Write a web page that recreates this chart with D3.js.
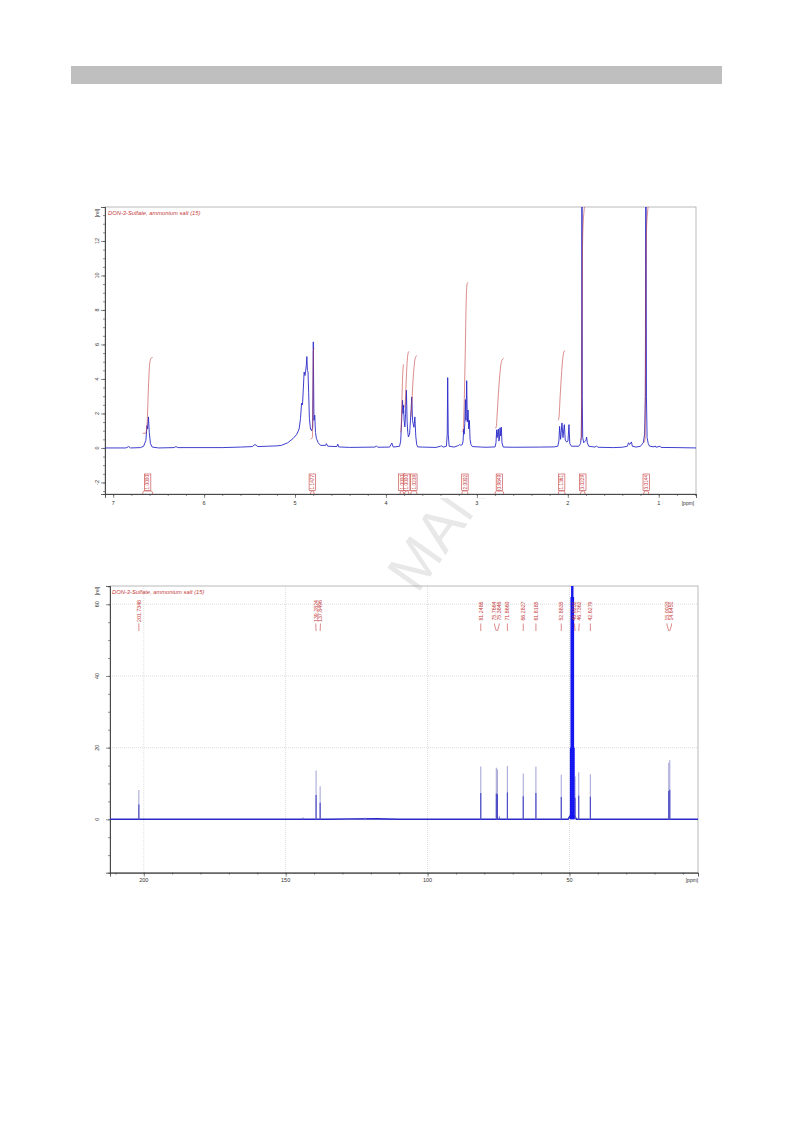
<!DOCTYPE html>
<html><head><meta charset="utf-8">
<script src="https://cdn.jsdelivr.net/npm/d3@7"></script>
<style>body{margin:0;background:#fff} svg{display:block} text{font-family:"Liberation Sans",Arial,sans-serif}</style>
</head><body><svg id="c" width="793" height="1123"></svg>
<script>
// ---------------- DATA ----------------
const hTitle = "DON-3-Sulfate, ammonium salt (15)";
const hXTicks = [7,6,5,4,3,2,1];
const hYTicks = [-2,0,2,4,6,8,10,12];
// 1H spectrum, [ppm, intensity]
const hSpectrum = [
[7.09,0],[6.86,0],[6.83,0.08],[6.81,0],[6.70,0.02],[6.665,0.1],[6.64,0.45],[6.628,1.3],[6.622,1.1],[6.612,1.8],[6.603,0.9],[6.59,0.25],[6.57,0.05],[6.50,0],
[6.33,0.02],[6.31,0.08],[6.29,0.02],[5.80,0.02],[5.60,0.05],[5.47,0.08],[5.44,0.2],[5.41,0.08],[5.30,0.1],[5.20,0.12],[5.15,0.15],[5.08,0.3],[5.02,0.55],[4.98,0.8],[4.955,1.1],
[4.94,1.7],[4.928,2.6],[4.918,2.5],[4.91,3.3],[4.9,4.4],[4.89,4.2],[4.883,4.5],[4.876,4.8],[4.87,5.3],[4.864,4.5],[4.857,4.4],[4.85,3.2],[4.842,1.7],[4.83,1.1],[4.818,1.0],
[4.806,1.2],[4.799,6.15],[4.792,1.6],[4.783,1.9],[4.775,0.9],[4.765,0.55],[4.745,0.3],[4.72,0.15],[4.665,0.15],[4.655,0.25],[4.64,0.1],[4.54,0.08],[4.53,0.22],[4.52,0.06],
[4.40,0.03],[4.12,0.05],[4.105,0.12],[4.09,0.04],[3.96,0.05],[3.935,0.28],[3.92,0.05],
[3.85,0.1],[3.838,0.4],[3.828,1.5],[3.818,2.77],[3.812,2.0],[3.807,2.48],[3.8,1.6],[3.792,1.22],[3.784,2.0],[3.775,3.35],[3.767,1.5],[3.76,0.9],[3.753,0.64],[3.74,0.8],
[3.728,1.8],[3.716,2.96],[3.708,1.6],[3.701,1.41],[3.692,1.2],[3.682,1.8],[3.672,0.7],[3.662,0.2],[3.65,0.06],
[3.60,0.05],[3.45,0.03],[3.40,0.1],[3.39,0.12],[3.37,0.05],[3.335,0.1],[3.326,0.8],[3.321,4.08],[3.315,0.8],[3.305,0.1],[3.25,0.05],[3.2,0.15],[3.19,0.2],[3.175,0.15],
[3.16,0.2],[3.152,0.4],[3.145,1.1],[3.14,0.8],[3.133,1.4],[3.126,2.8],[3.12,1.6],[3.112,3.9],[3.105,1.5],[3.097,2.2],[3.09,1.1],[3.082,1.6],[3.075,0.5],[3.065,0.2],[3.05,0.08],
[2.95,0.05],[2.9,0.04],[2.80,0.06],[2.79,0.3],[2.782,1.05],[2.777,0.6],[2.772,0.8],[2.764,1.1],[2.758,0.4],[2.752,0.5],[2.745,1.17],[2.739,0.7],[2.731,1.2],[2.724,0.3],[2.71,0.05],
[2.6,0.04],[2.3,0.05],[2.15,0.06],[2.11,0.1],[2.098,0.4],[2.09,1.25],[2.079,0.5],[2.064,1.45],[2.053,0.6],[2.038,1.35],[2.028,0.45],[2.013,0.35],[1.998,0.4],[1.987,1.35],[1.978,0.25],[1.96,0.1],
[1.88,0.1],[1.86,0.25],[1.852,0.6],[1.847,3],[1.844,20],[1.841,3],[1.836,0.6],[1.825,0.3],[1.8,0.45],[1.793,0.63],[1.785,0.3],[1.77,0.1],[1.70,0.05],[1.685,0.12],[1.67,0.04],
[1.5,0.02],[1.4,0.04],[1.345,0.1],[1.332,0.3],[1.32,0.2],[1.30,0.35],[1.29,0.1],[1.25,0.05],[1.2,0.1],[1.17,0.3],[1.155,0.8],[1.147,3],[1.141,20],[1.135,3],[1.128,0.6],[1.115,0.25],
[1.1,0.1],[1.05,0.06],[1.04,0.12],[1.03,0.04],[0.985,0.1],[0.975,0.03],[0.80,0.02],[0.59,0]
];
// integral labels and ranges [label, ppmFrom, ppmTo]
const hIntLabels = [
["1.0000",6.676,6.566],["1.1477",4.83,4.79],["1.0000",3.845,3.805],["1.0000",3.795,3.748],["1.0239",3.726,3.66],
["2.0002",3.165,3.098],["0.9849",2.80,2.705],["1.1361",2.105,2.03],["3.0229",1.86,1.81],["3.0144",1.165,1.11]
];
// integral curves [ppm, value]
const hIntCurves = [
[[6.676,0.85],[6.645,0.85],[6.628,1.3],[6.615,3.1],[6.6,4.8],[6.585,5.2],[6.566,5.25]],
[[4.83,0.5],[4.81,0.6],[4.803,2.5],[4.798,5.6],[4.79,5.8]],
[[3.845,0.9],[3.836,0.95],[3.828,2.0],[3.82,3.6],[3.812,4.6],[3.805,4.85]],
[[3.795,2.35],[3.788,2.6],[3.778,3.8],[3.768,4.9],[3.758,5.45],[3.748,5.6]],
[[3.726,1.8],[3.718,2.3],[3.706,3.6],[3.694,4.5],[3.682,5.1],[3.67,5.3],[3.66,5.37]],
[[3.165,0.95],[3.152,1.0],[3.14,2.5],[3.128,5.5],[3.118,8.4],[3.108,9.5],[3.098,9.6]],
[[2.80,1.15],[2.788,1.2],[2.775,2.1],[2.76,3.4],[2.745,4.4],[2.73,5.0],[2.715,5.15],[2.705,5.2]],
[[2.105,1.6],[2.095,1.9],[2.085,2.9],[2.07,4.2],[2.055,5.2],[2.04,5.6],[2.03,5.65]],
[[1.86,0.45],[1.85,0.6],[1.846,4],[1.842,9],[1.835,12.5],[1.822,13.7],[1.81,14.2]],
[[1.165,0.3],[1.15,0.5],[1.146,4],[1.142,9],[1.135,12.5],[1.122,13.7],[1.11,14.2]]
];

const cTitle = "DON-3-Sulfate, ammonium salt (15)";
const cXTicks = [200,150,100,50];
const cYTicks = [0,20,40,60];
// labelled 13C peaks [ppm, intensity]
const cPeaks = [[201.7348,8.2],[139.2824,13.6],[137.8496,9.2],[81.2486,14.7],[75.7664,14.4],[75.3846,14.0],[71.8660,14.9],[66.2827,12.8],
[61.8185,14.7],[52.8835,12.4],[48.0232,12],[46.7362,13.1],[42.6279,12.6],[15.0020,15.8],[14.6451,16.5]];
const cMinor = [[143.9,0.6],[122.0,0.5],[74.7,1.0]];
const cSolvent = [[49.64,20],[49.43,62],[49.21,125],[49.00,145],[48.79,125],[48.57,62],[48.36,20]];
const cBaseline = [[211.9,0],[135,0],[128,0.1],[118,0.12],[110,0],[50.5,0],[49.8,0.9],[48.2,0.9],[47.5,0],[4.7,0]];

// ---------------- DRAW ----------------
const svg = d3.select("#c");
const red = "#c43c3c", blue = "#2a2ac8", axisC = "#444";

svg.append("rect").attr("x",71).attr("y",66).attr("width",651).attr("height",18).attr("fill","#bfbfbf");

// watermark (only visible between the two spectra)
const defs = svg.append("defs");
defs.append("clipPath").attr("id","wm").append("rect").attr("x",0).attr("y",498).attr("width",793).attr("height",96);
defs.append("clipPath").attr("id","hclip").append("rect").attr("x",105).attr("y",207).attr("width",591).attr("height",287);
defs.append("clipPath").attr("id","cclip").append("rect").attr("x",110).attr("y",586).attr("width",588).attr("height",286.7);
svg.append("g").attr("clip-path","url(#wm)").append("text")
  .attr("transform","translate(226,866) rotate(-54.8)")
  .attr("font-size",58).attr("fill","#e8e8e8").text("ACCEPTED MANUSCRIPT");

// ---------- 1H chart ----------
const xH = d3.scaleLinear().domain([7.09,0.59]).range([105,696]);
const yH = d3.scaleLinear().domain([-2.67,13.97]).range([494,207]);
const gH = svg.append("g");
gH.append("rect").attr("x",105).attr("y",207).attr("width",591).attr("height",287).attr("fill","none").attr("stroke","#a8a8a8").attr("stroke-width",0.8);

const ax1 = gH.append("g").attr("transform","translate(105,0)").call(d3.axisLeft(yH).tickValues(hYTicks).tickSize(4).tickFormat(""));
const ax1m = gH.append("g").attr("transform","translate(105,0)").call(d3.axisLeft(yH).tickValues(d3.range(-2.5,14,0.5)).tickSize(2).tickFormat(""));
const ax2 = gH.append("g").attr("transform","translate(0,494)").call(d3.axisBottom(xH).tickValues(hXTicks).tickSize(4).tickFormat(""));
const ax2m = gH.append("g").attr("transform","translate(0,494)").call(d3.axisBottom(xH).tickValues(d3.range(0.6,7.05,0.2)).tickSize(2).tickFormat(""));
[ax1,ax1m,ax2,ax2m].forEach(a=>{a.selectAll("path.domain").attr("stroke",axisC).attr("stroke-width",0.8);a.selectAll("line").attr("stroke",axisC).attr("stroke-width",0.6);});

gH.selectAll("text.yl").data(hYTicks).join("text").attr("class","yl")
  .attr("transform",d=>`translate(97,${yH(d)}) rotate(-90)`).attr("text-anchor","middle").attr("dy","0.35em")
  .attr("font-size",5.5).attr("fill","#333").text(d=>d);
gH.selectAll("text.xl").data(hXTicks).join("text").attr("class","xl")
  .attr("x",d=>xH(d)).attr("y",505).attr("text-anchor","middle").attr("font-size",5.5).attr("fill","#333").text(d=>d);
gH.append("text").attr("x",688).attr("y",505).attr("text-anchor","middle").attr("font-size",5).attr("fill","#333").text("[ppm]");
gH.append("text").attr("transform","translate(97,213) rotate(-90)").attr("text-anchor","middle").attr("dy","0.35em").attr("font-size",5).attr("fill","#333").text("[rel]");
gH.append("text").attr("x",108).attr("y",215).attr("font-size",5.8).attr("font-style","italic").attr("fill",red).text(hTitle);

const hLine = d3.line().x(d=>xH(d[0])).y(d=>yH(d[1]));
const gHp = gH.append("g").attr("clip-path","url(#hclip)");
gHp.append("path").attr("d",hLine(hSpectrum)).attr("fill","none").attr("stroke",blue).attr("stroke-width",0.9);
const iLine = d3.line().x(d=>xH(d[0])).y(d=>yH(d[1])).curve(d3.curveMonotoneX);
gHp.selectAll("path.int").data(hIntCurves).join("path").attr("class","int")
  .attr("d",d=>iLine(d)).attr("fill","none").attr("stroke",red).attr("stroke-width",0.7).attr("stroke-opacity",0.85);

// integral labels
const gI = gH.append("g");
hIntLabels.forEach(d=>{
  const xa = xH(d[1]), xb = xH(d[2]), xc = (xa+xb)/2;
  gI.append("path").attr("d",`M${xa},494 Q${xa},491 ${xa+1.5},491 L${xb-1.5},491 Q${xb},491 ${xb},494`)
    .attr("fill","none").attr("stroke",red).attr("stroke-width",0.6);
  gI.append("rect").attr("x",xc-3.2).attr("y",474).attr("width",6.4).attr("height",16.5).attr("fill","#fff").attr("stroke",red).attr("stroke-width",0.6);
  gI.append("text").attr("transform",`translate(${xc},482.2) rotate(-90)`).attr("text-anchor","middle").attr("dy","0.35em")
    .attr("font-size",4.8).attr("fill",red).text(d[0]);
});

// ---------- 13C chart ----------
const xC = d3.scaleLinear().domain([211.9,4.7]).range([110,698]);
const yC = d3.scaleLinear().domain([-14.9,65.1]).range([872.7,586]);
const gC = svg.append("g");
gC.selectAll("line.gv").data(cXTicks).join("line").attr("class","gv")
  .attr("x1",d=>xC(d)).attr("x2",d=>xC(d)).attr("y1",586).attr("y2",872.7).attr("stroke","#cfcfcf").attr("stroke-width",0.7).attr("stroke-dasharray","1,1");
gC.selectAll("line.gh").data(cYTicks.filter(d=>d!==0)).join("line").attr("class","gh")
  .attr("x1",110).attr("x2",698).attr("y1",d=>yC(d)).attr("y2",d=>yC(d)).attr("stroke","#cfcfcf").attr("stroke-width",0.7).attr("stroke-dasharray","1,1");
gC.append("rect").attr("x",110).attr("y",586).attr("width",588).attr("height",286.7).attr("fill","none").attr("stroke","#a8a8a8").attr("stroke-width",0.8);

const bx1 = gC.append("g").attr("transform","translate(110,0)").call(d3.axisLeft(yC).tickValues(cYTicks).tickSize(4).tickFormat(""));
const bx1m = gC.append("g").attr("transform","translate(110,0)").call(d3.axisLeft(yC).tickValues(d3.range(-10,66,5)).tickSize(2).tickFormat(""));
const bx2 = gC.append("g").attr("transform","translate(0,872.7)").call(d3.axisBottom(xC).tickValues(cXTicks).tickSize(4).tickFormat(""));
const bx2m = gC.append("g").attr("transform","translate(0,872.7)").call(d3.axisBottom(xC).tickValues(d3.range(10,211,10)).tickSize(2).tickFormat(""));
[bx1,bx1m,bx2,bx2m].forEach(a=>{a.selectAll("path.domain").attr("stroke",axisC).attr("stroke-width",0.8);a.selectAll("line").attr("stroke",axisC).attr("stroke-width",0.6);});

gC.selectAll("text.yl").data(cYTicks).join("text").attr("class","yl")
  .attr("transform",d=>`translate(97,${yC(d)}) rotate(-90)`).attr("text-anchor","middle").attr("dy","0.35em")
  .attr("font-size",5.5).attr("fill","#333").text(d=>d);
gC.selectAll("text.xl").data(cXTicks).join("text").attr("class","xl")
  .attr("x",d=>xC(d)).attr("y",882).attr("text-anchor","middle").attr("font-size",5.5).attr("fill","#333").text(d=>d);
gC.append("text").attr("x",692).attr("y",882).attr("text-anchor","middle").attr("font-size",5).attr("fill","#333").text("[ppm]");
gC.append("text").attr("transform","translate(97,591) rotate(-90)").attr("text-anchor","middle").attr("dy","0.35em").attr("font-size",5).attr("fill","#333").text("[rel]");
gC.append("text").attr("x",112).attr("y",594).attr("font-size",5.8).attr("font-style","italic").attr("fill",red).text(cTitle);

const gCp = gC.append("g").attr("clip-path","url(#cclip)");
const cLine = d3.line().x(d=>xC(d[0])).y(d=>yC(d[1]));
gCp.append("path").attr("d",cLine(cBaseline)).attr("fill","none").attr("stroke",blue).attr("stroke-width",1.6);
const allPk = cPeaks.concat(cMinor);
gCp.selectAll("line.pk").data(allPk).join("line").attr("class","pk")
  .attr("x1",d=>xC(d[0])).attr("x2",d=>xC(d[0])).attr("y1",yC(0)).attr("y2",d=>yC(d[1])).attr("stroke","#a9a9da").attr("stroke-width",1.1);
gCp.selectAll("line.pkd").data(allPk).join("line").attr("class","pkd")
  .attr("x1",d=>xC(d[0])).attr("x2",d=>xC(d[0])).attr("y1",yC(0)).attr("y2",d=>yC(d[1]*0.5)).attr("stroke","#4646c4").attr("stroke-width",1.1);
gCp.selectAll("line.sv").data(cSolvent).join("line").attr("class","sv")
  .attr("x1",d=>xC(d[0])).attr("x2",d=>xC(d[0])).attr("y1",yC(0)).attr("y2",d=>yC(d[1])).attr("stroke","#1414f0").attr("stroke-width",1.2);

// peak labels with spreading
const lab = cPeaks.map(d=>({ppm:d[0], px:xC(d[0])})).sort((a,b)=>a.px-b.px);
(function spread(items,gap){
  let groups = items.map(d=>({items:[d], c:d.px}));
  let changed = true;
  while(changed){
    changed=false;
    for(let i=1;i<groups.length;i++){
      const a=groups[i-1], b=groups[i];
      const aEnd=a.c+(a.items.length-1)*gap/2, bStart=b.c-(b.items.length-1)*gap/2;
      if(bStart-aEnd<gap){
        const its=a.items.concat(b.items);
        groups.splice(i-1,2,{items:its,c:d3.mean(its,d=>d.px)});
        changed=true;break;
      }
    }
  }
  groups.forEach(g=>g.items.forEach((d,i)=>d.lx=g.c+(i-(g.items.length-1)/2)*gap));
})(lab,4.6);
const gL = gC.append("g");
gL.selectAll("text").data(lab).join("text")
  .attr("transform",d=>`translate(${d.lx},611) rotate(-90)`).attr("text-anchor","middle").attr("dy","0.35em")
  .attr("font-size",5.3).attr("fill",red).text(d=>d.ppm.toFixed(4));
gL.selectAll("path").data(lab).join("path")
  .attr("d",d=>`M${d.lx},623.5 L${d.lx},625 L${d.px},631`).attr("fill","none").attr("stroke",red).attr("stroke-width",0.6);
</script></body></html>
